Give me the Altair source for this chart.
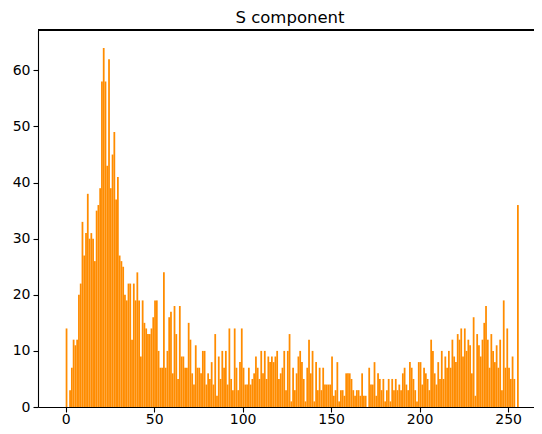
import altair as alt
import pandas as pd

counts_0_49 = [14, 0, 3, 7, 12, 11, 12, 20, 22, 33,
               27, 31, 38, 30, 31, 30, 26, 35, 36, 39,
               58, 64, 58, 43, 62, 39, 45, 49, 37, 41,
               27, 26, 25, 20, 19, 22, 22, 12, 22, 19,
               24, 19, 9, 19, 15, 14, 13, 13, 14, 16]
counts_50_99 = [19, 19, 10, 7, 7, 24, 7, 10, 16, 17,
                6, 18, 13, 5, 18, 9, 9, 7, 7, 15,
                12, 6, 4, 11, 7, 7, 6, 10, 10, 4,
                6, 5, 8, 4, 13, 2, 9, 5, 10, 7,
                10, 4, 14, 5, 3, 14, 7, 3, 8, 14]
counts_100_149 = [7, 4, 4, 7, 4, 5, 6, 9, 7, 5,
                  10, 6, 10, 5, 9, 8, 9, 8, 9, 10,
                  5, 6, 7, 10, 3, 10, 13, 1, 7, 3,
                  6, 9, 10, 8, 5, 1, 7, 12, 6, 10,
                  1, 8, 3, 7, 3, 7, 4, 4, 4, 4]
counts_150_199 = [9, 2, 3, 8, 1, 3, 3, 2, 6, 6,
                  6, 5, 3, 2, 3, 3, 2, 6, 2, 2,
                  0, 7, 4, 4, 8, 2, 6, 5, 3, 5,
                  1, 3, 5, 1, 5, 3, 5, 3, 4, 3,
                  6, 7, 4, 3, 8, 7, 5, 3, 1, 8]
counts_200_255 = [8, 4, 7, 6, 5, 3, 12, 10, 6, 4,
                  8, 5, 10, 5, 9, 7, 10, 7, 12, 9,
                  8, 13, 12, 14, 9, 14, 10, 12, 11, 6,
                  16, 2, 13, 11, 9, 12, 15, 18, 12, 7,
                  13, 10, 8, 11, 7, 12, 3, 19, 7, 14,
                  7, 5, 9, 5, 0, 36]

counts = counts_0_49 + counts_50_99 + counts_100_149 + counts_150_199 + counts_200_255
bins = list(range(len(counts)))
x_ticks = [0, 50, 100, 150, 200, 250]
y_ticks = [0, 10, 20, 30, 40, 50, 60]

df = pd.DataFrame({"bin": bins, "count": counts})

W, H = 504, 377
FONT = "DejaVu Sans"

bars = alt.Chart(df).transform_calculate(
    bin_end="datum.bin + 1"
).mark_bar(color="#ff8c00", strokeWidth=0, orient="vertical").encode(
    x=alt.X("bin:Q",
            scale=alt.Scale(domain=[-12.8, 266.3], nice=False, zero=False),
            axis=alt.Axis(values=x_ticks, title=None, grid=False, labelFontSize=14,
                          labelFont=FONT, labelColor="black", tickColor="black",
                          domainColor="black", tickSize=5, tickWidth=1.1,
                          domainWidth=1.1, labelPadding=0, labelFlush=False)),
    x2="bin_end:Q",
    y=alt.Y("count:Q",
            scale=alt.Scale(domain=[0, 67.2], nice=False),
            axis=alt.Axis(values=y_ticks, title=None, grid=False, labelFontSize=14,
                          labelFont=FONT, labelColor="black", tickColor="black",
                          domainColor="black", tickSize=5, tickWidth=1.1,
                          domainWidth=1.1, labelPadding=3)),
    y2=alt.datum(0),
)

top_border = alt.Chart(df).mark_rule(color="black", strokeWidth=1.1).encode(
    x=alt.value(0), x2=alt.value(W), y=alt.value(0)
)

chart = alt.layer(bars, top_border).properties(
    width=W, height=H,
    title=alt.TitleParams("S component", fontSize=16.5, font=FONT, fontWeight="normal",
                          color="black", anchor="middle", offset=3),
    autosize=alt.AutoSizeParams(type="none"),
    padding={"left": 30, "top": 22, "right": -8, "bottom": 19},
).configure_view(stroke=None)

chart.save("out.html", embed_options={"renderer": "svg", "actions": False})
